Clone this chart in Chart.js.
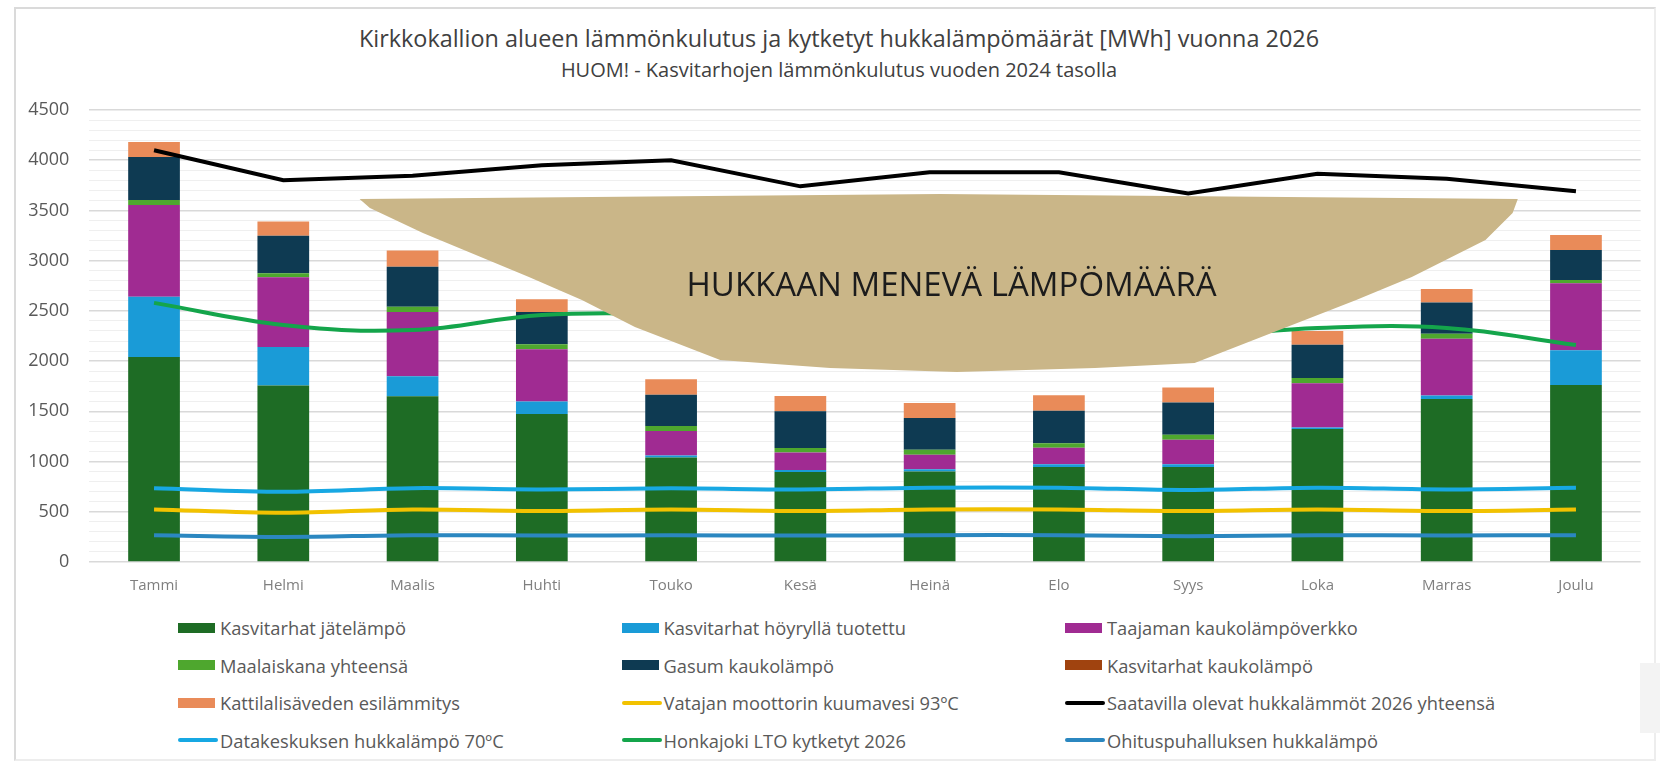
<!DOCTYPE html>
<html lang="fi">
<head>
<meta charset="UTF-8">
<title>Kirkkokallion alueen lämmönkulutus</title>
<style>
  body { margin: 0; background: #fff; font-family: "Open Sans", Arial, sans-serif; }
  .page { position: relative; width: 1660px; height: 766px; overflow: hidden; }
  .frame { position: absolute; left: 14px; top: 7px; width: 1638px; height: 750px; border: 2px solid #dadada; border-bottom-color: #ededed; border-right-color: #ededed; }
  .side { position: absolute; left: 1640px; top: 663px; width: 20px; height: 70px; background: #f3f3f3; }
  .title { position: absolute; left: 0; width: 1678px; text-align: center; color: #404040; white-space: nowrap; }
  #t1 { top: 22px; font-size: 23.4px; }
  #t2 { top: 56px; font-size: 20px; }
  .wrap { position: absolute; left: 0; top: 0; width: 1660px; height: 600px; }
  #legend { position: absolute; left: 178px; top: 609px; display: grid; grid-template-columns: repeat(3, 443.5px); grid-auto-rows: 37.5px; }
  .item { display: flex; align-items: center; font-size: 18.3px; color: #595959; white-space: nowrap; }
  .sw { width: 42px; display: flex; align-items: center; }
</style>
</head>
<body>
<div class="page">
  <div class="frame"></div>
  <div class="side"></div>
  <div class="title" id="t1">Kirkkokallion alueen lämmönkulutus ja kytketyt hukkalämpömäärät [MWh] vuonna 2026</div>
  <div class="title" id="t2">HUOM! - Kasvitarhojen lämmönkulutus vuoden 2024 tasolla</div>
  <div class="wrap"><canvas id="chart"></canvas></div>
  <div id="legend"></div>
</div>
<script src="https://cdn.jsdelivr.net/npm/chart.js"></script>
<script>
const months = ['Tammi', 'Helmi', 'Maalis', 'Huhti', 'Touko', 'Kesä', 'Heinä', 'Elo', 'Syys', 'Loka', 'Marras', 'Joulu'];

// pinotut pylväät (MWh)
const jatelampo   = [2040, 1757, 1650, 1473, 1040, 897, 900, 947, 947, 1323, 1623, 1763];
const hoyry       = [600, 383, 200, 124, 20, 20, 23, 26, 26, 17, 34, 344];
const taajama     = [913, 695, 640, 520, 245, 173, 144, 164, 244, 440, 566, 668];
const maalaiskana = [50, 40, 50, 50, 50, 45, 50, 46, 50, 53, 50, 33];
const gasum       = [428, 372, 400, 323, 310, 365, 316, 324, 320, 330, 310, 298];
const kasvKauko   = [0, 0, 0, 0, 0, 0, 0, 0, 0, 0, 0, 0];
const kattila     = [150, 142, 160, 127, 155, 153, 150, 153, 150, 137, 135, 150];

// viivat (MWh)
const vatajan     = [523, 490, 523, 507, 523, 507, 523, 523, 507, 523, 507, 523];
const saatavilla  = [4100, 3800, 3845, 3950, 4000, 3740, 3880, 3880, 3670, 3865, 3815, 3690];
const datakeskus  = [735, 700, 735, 723, 733, 723, 740, 740, 717, 740, 723, 740];
const honkajoki   = [2580, 2360, 2310, 2460, 2470, 2440, 2400, 2340, 2250, 2330, 2330, 2160];
const ohitus      = [267, 250, 267, 263, 267, 263, 267, 267, 257, 267, 265, 267];

const yTicks = [0, 500, 1000, 1500, 2000, 2500, 3000, 3500, 4000, 4500];

// "hukkaan menevä" -alue akselin yksiköissä (kategoriaindeksi, MWh)
const wasteIdx = [1.59, 1.67, 2.08, 2.90, 3.31, 3.72, 4.38, 5.23, 6.21, 7.28, 8.05, 9.30, 9.73, 10.30, 10.51, 10.55, 6.08];
const wasteVal = [3614, 3524, 3276, 2837, 2608, 2340, 2011, 1931, 1892, 1931, 1981, 2608, 2837, 3206, 3475, 3614, 3664];
const wasteLabel = 'HUKKAAN MENEVÄ LÄMPÖMÄÄRÄ';
const wasteLabelAt = [6.17, 2737];

function bar(label, data, color) {
  return { type: 'bar', label, data, backgroundColor: color, order: 2, stack: 'bars',
    categoryPercentage: 0.8, barPercentage: 0.5 };
}
function line(label, data, color, tension) {
  return { type: 'line', label, data, borderColor: color, backgroundColor: color, order: 1,
    stack: label, borderWidth: 4, pointRadius: 0, tension: tension, fill: false };
}

const wastePlugin = {
  id: 'waste',
  afterDatasetsDraw(chart) {
    const { ctx, scales: { x, y } } = chart;
    ctx.save();
    ctx.beginPath();
    wasteIdx.forEach((v, i) => {
      const px = x.getPixelForValue(v);
      const py = y.getPixelForValue(wasteVal[i]);
      if (i === 0) ctx.moveTo(px, py); else ctx.lineTo(px, py);
    });
    ctx.closePath();
    ctx.fillStyle = '#cab688';
    ctx.fill();
    ctx.fillStyle = '#1c1c1c';
    ctx.font = '33px "Open Sans", Arial, sans-serif';
    ctx.textAlign = 'center';
    ctx.textBaseline = 'middle';
    ctx.fillText(wasteLabel, x.getPixelForValue(wasteLabelAt[0]), y.getPixelForValue(wasteLabelAt[1]));
    ctx.restore();
  }
};

const chart = new Chart(document.getElementById('chart').getContext('2d'), {
  data: {
    labels: months,
    datasets: [
      bar('Kasvitarhat jätelämpö', jatelampo, '#1e6c25'),
      bar('Kasvitarhat höyryllä tuotettu', hoyry, '#1a9bd7'),
      bar('Taajaman kaukolämpöverkko', taajama, '#a02b92'),
      bar('Maalaiskana yhteensä', maalaiskana, '#4ea72e'),
      bar('Gasum kaukolämpö', gasum, '#0e3a52'),
      bar('Kasvitarhat kaukolämpö', kasvKauko, '#a0430f'),
      bar('Kattilalisäveden esilämmitys', kattila, '#e98b59'),
      line('Vatajan moottorin kuumavesi 93ºC', vatajan, '#f2c200', 0.35),
      line('Saatavilla olevat hukkalämmöt 2026 yhteensä', saatavilla, '#000000', 0),
      line('Datakeskuksen hukkalämpö 70ºC', datakeskus, '#17a8e3', 0.35),
      line('Honkajoki LTO kytketyt 2026', honkajoki, '#14a54b', 0.4),
      line('Ohituspuhalluksen hukkalämpö', ohitus, '#2b87c0', 0.35)
    ]
  },
  options: {
    responsive: true,
    maintainAspectRatio: false,
    animation: false,
    layout: { padding: { top: 110, right: 19.4, left: 0, bottom: 0 } },
    plugins: { legend: { display: false }, tooltip: { enabled: false } },
    scales: {
      x: {
        stacked: true,
        grid: { display: false, drawTicks: false },
        border: { display: false },
        ticks: { color: '#7f7f7f', font: { family: 'Open Sans', size: 15 }, padding: 15, maxRotation: 0 },
        afterFit(scale) { scale.height = 38; }
      },
      y: {
        stacked: true,
        min: 0,
        max: yTicks[yTicks.length - 1],
        border: { display: false },
        grid: {
          drawTicks: false,
          color: c => yTicks.includes(c.tick.value) ? '#d9d9d9' : '#efefef',
          lineWidth: c => yTicks.includes(c.tick.value) ? 1.6 : 1
        },
        ticks: {
          stepSize: 100,
          autoSkip: false,
          color: '#595959',
          font: { family: 'Open Sans', size: 18 },
          padding: 20,
          callback: v => yTicks.includes(v) ? String(v) : ''
        },
        afterFit(scale) { scale.width = 89.4; }
      }
    }
  },
  plugins: [wastePlugin]
});

// selite 3 sarakkeeseen, rivi kerrallaan
const legend = document.getElementById('legend');
chart.data.datasets.forEach(ds => {
  const item = document.createElement('div');
  item.className = 'item';
  const sw = document.createElement('span');
  sw.className = 'sw';
  const mark = document.createElement('span');
  if (ds.type === 'bar') {
    mark.style.cssText = 'display:block;width:37px;height:10px;background:' + ds.backgroundColor;
  } else {
    mark.style.cssText = 'display:block;width:40px;height:4px;border-radius:2px;background:' + ds.borderColor;
  }
  sw.appendChild(mark);
  item.appendChild(sw);
  item.appendChild(document.createTextNode(ds.label));
  legend.appendChild(item);
});
</script>
</body>
</html>
